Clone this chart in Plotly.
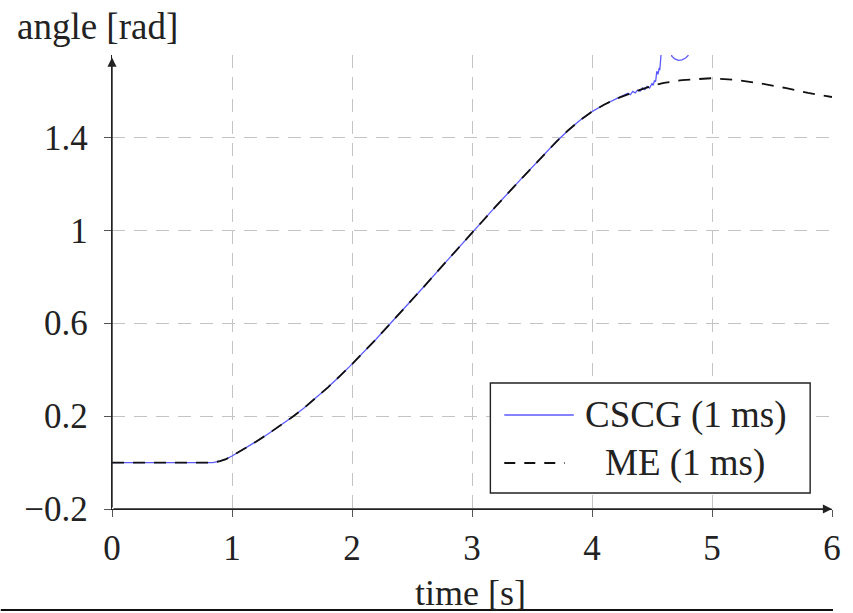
import plotly.graph_objects as go

# ---- data ----
me_t = [0.0, 0.84, 0.9, 0.95, 1.0, 1.1, 1.2, 1.3, 1.4, 1.5, 1.6, 1.7, 1.8, 1.9, 2.0,
        2.2, 2.4, 2.6, 2.8, 3.0, 3.2, 3.4, 3.6, 3.7, 3.8, 3.9, 4.0, 4.1, 4.2, 4.3,
        4.4, 4.5, 4.6, 4.75, 5.0, 5.2, 5.4, 5.6, 5.8, 6.0]
me_v = [0.0, 0.0, 0.006, 0.015, 0.028, 0.058, 0.090, 0.123, 0.158, 0.195, 0.235, 0.278, 0.324, 0.373, 0.424,
        0.531, 0.643, 0.758, 0.874, 0.990, 1.104, 1.216, 1.326, 1.380, 1.430, 1.474, 1.511, 1.541, 1.566, 1.587,
        1.605, 1.622, 1.635, 1.647, 1.655, 1.648, 1.633, 1.614, 1.592, 1.574]

cscg_t_head = [0.0, 0.84, 0.9, 0.95, 1.0, 1.1, 1.2, 1.3, 1.4, 1.5, 1.6, 1.7, 1.8, 1.9, 2.0,
               2.2, 2.4, 2.6, 2.8, 3.0, 3.2, 3.4, 3.6, 3.7, 3.8, 3.9, 4.0, 4.1, 4.2]
cscg_v_head = [0.0, 0.0, 0.006, 0.015, 0.028, 0.058, 0.090, 0.123, 0.158, 0.195, 0.235, 0.278, 0.324, 0.373, 0.424,
               0.531, 0.643, 0.758, 0.874, 0.990, 1.104, 1.216, 1.326, 1.380, 1.430, 1.474, 1.511, 1.541, 1.566]
cscg_t_tail = [4.30, 4.32, 4.34, 4.36, 4.38, 4.40, 4.42, 4.44, 4.46, 4.48, 4.50, 4.51, 4.52, 4.53,
               4.54, 4.55, 4.56, 4.565, 4.575, 4.59, 4.62, 4.65, 4.665, 4.69, 4.72, 4.75, 4.78,
               4.80, 4.83, 4.86]
cscg_v_tail = [1.590, 1.584, 1.598, 1.592, 1.604, 1.599, 1.613, 1.606, 1.620, 1.613, 1.632, 1.624, 1.645, 1.640,
               1.685, 1.672, 1.700, 1.690, 1.760, 1.85, 1.95, 1.80, 1.75, 1.738, 1.732, 1.734, 1.742,
               1.752, 1.82, 1.90]
cscg_t = cscg_t_head + cscg_t_tail
cscg_v = cscg_v_head + cscg_v_tail

x_ticks = [0, 1, 2, 3, 4, 5, 6]
x_ticktext = ["0", "1", "2", "3", "4", "5", "6"]
y_ticks = [-0.2, 0.2, 0.6, 1.0, 1.4]
y_ticktext = ["\u22120.2", "0.2", "0.6", "1", "1.4"]

series_names = ["CSCG (1 ms)", "ME (1 ms)"]

# ---- styling ----
FONT = "Liberation Serif"
TXT = "#222222"
BLUE = "#5a5aff"
XR = [0, 6]
YR = [-0.2, 1.755]
L, R, T, B = 112, 16, 55, 104
W, H = 853, 613
PW, PH = W - L - R, H - T - B


def px(xp):
    return (xp - L) / PW


def py(yp):
    return (H - B - yp) / PH


fig = go.Figure()
fig.add_trace(go.Scatter(x=cscg_t, y=cscg_v, mode="lines", name=series_names[0],
                         line=dict(color=BLUE, width=1.3), showlegend=False))
fig.add_trace(go.Scatter(x=me_t, y=me_v, mode="lines", name=series_names[1],
                         line=dict(color="#111111", width=1.8, dash="12px,9px"), showlegend=False))

axis_common = dict(
    showgrid=True, gridcolor="#c4c4c4", gridwidth=1.4, griddash="13px,9px",
    zeroline=False, showline=True, linecolor=TXT, linewidth=1.4,
    ticks="outside", ticklen=7, tickcolor="#555555", tickwidth=1.2,
    tickfont=dict(family=FONT, size=35, color=TXT),
)
fig.update_xaxes(range=XR, tickvals=x_ticks, ticktext=x_ticktext, ticklabelstandoff=1, **axis_common)
fig.update_yaxes(range=YR, tickvals=y_ticks, ticktext=y_ticktext, ticklabelstandoff=9, **axis_common)

shapes = [
    # legend box
    dict(type="rect", xref="paper", yref="paper", x0=px(493), x1=px(815), y0=py(493), y1=py(383),
         line=dict(color=TXT, width=1.4), fillcolor="white", layer="above"),
    dict(type="line", xref="paper", yref="paper", x0=px(507), x1=px(577), y0=py(415), y1=py(415),
         line=dict(color=BLUE, width=1.3)),
    dict(type="line", xref="paper", yref="paper", x0=px(507), x1=px(568), y0=py(463), y1=py(463),
         line=dict(color="#111111", width=1.8, dash="11px,9px")),
    # bottom rule of the page
    dict(type="line", xref="paper", yref="paper", x0=px(0), x1=px(838), y0=py(610), y1=py(610),
         line=dict(color="#111111", width=2)),
]

annotations = [
    dict(x=XR[1], y=YR[0], ax=XR[0], ay=YR[0], xref="x", yref="y", axref="x", ayref="y",
         showarrow=True, arrowhead=2, arrowsize=1.3, arrowwidth=1.4, arrowcolor=TXT, text=""),
    dict(x=XR[0], y=1.744, ax=XR[0], ay=YR[0], xref="x", yref="y", axref="x", ayref="y",
         showarrow=True, arrowhead=2, arrowsize=1.3, arrowwidth=1.4, arrowcolor=TXT, text=""),
    dict(text=series_names[0], xref="paper", yref="paper", x=px(689), y=py(415),
         xanchor="center", yanchor="middle", showarrow=False,
         font=dict(family=FONT, size=37, color=TXT)),
    dict(text=series_names[1], xref="paper", yref="paper", x=px(689), y=py(463),
         xanchor="center", yanchor="middle", showarrow=False,
         font=dict(family=FONT, size=37, color=TXT)),
    dict(text="angle [rad]", xref="paper", yref="paper", x=px(97.5), y=py(26),
         xanchor="center", yanchor="middle", showarrow=False,
         font=dict(family=FONT, size=37, color=TXT)),
    dict(text="time [s]", xref="paper", yref="paper", x=px(473), y=py(593),
         xanchor="center", yanchor="middle", showarrow=False,
         font=dict(family=FONT, size=36, color=TXT)),
]

fig.update_layout(
    width=W, height=H, autosize=False,
    margin=dict(l=L, r=R, t=T, b=B, pad=0),
    plot_bgcolor="white", paper_bgcolor="white",
    showlegend=False, shapes=shapes, annotations=annotations,
)

fig.write_html("out.html")
